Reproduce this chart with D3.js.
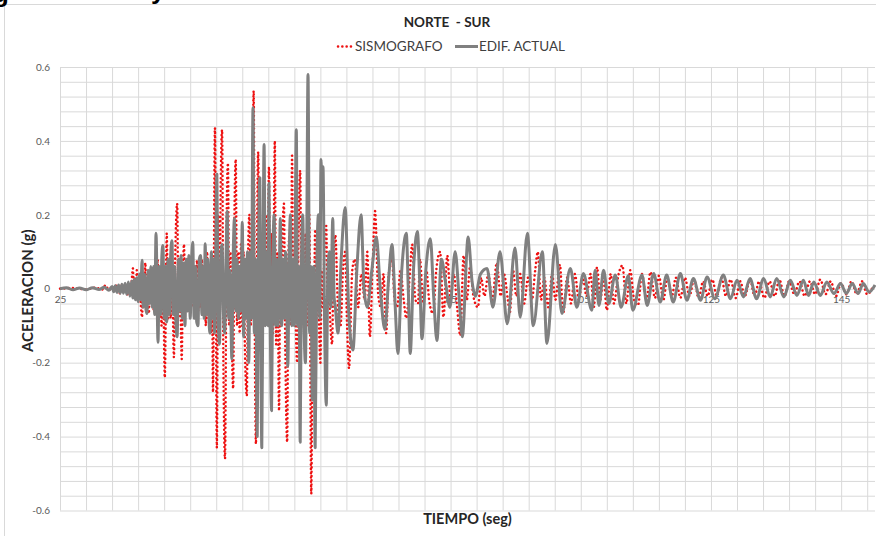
<!DOCTYPE html>
<html>
<head>
<meta charset="utf-8">
<script src="https://cdn.jsdelivr.net/npm/d3@7/dist/d3.min.js"></script>
<style>
  body { margin: 0; background: #fff; }
  svg { display: block; font-family: Lato, "Open Sans", sans-serif; }
</style>
</head>
<body>
<svg class="chart"></svg>
<script>
//======
// Data
//======

// [tiempo (seg), aceleracion (g)] - extremes
var sismografo = [
  [25, 0], [27, 0.002], [29, -0.002], [30.5, 0.003], [31.5, -0.002], [32, 0.01], [32.5, -0.004],
  [33.0, 0.005], [33.3, -0.005], [33.6, 0.008], [33.9, -0.008], [34.2, -0.012], [34.5, 0.01],
  [34.8, 0.012], [35.1, -0.01], [35.4, -0.015], [35.7, 0.012], [35.9, -0.01], [36.05, 0.03],
  [36.2, 0.055], [36.35, -0.02], [36.5, 0.03], [36.65, -0.02], [36.8, 0.05], [37.0, -0.03],
  [37.2, 0.02], [37.4, -0.04], [37.6, -0.077], [37.8, 0.04], [37.95, -0.03], [38.1, 0.07],
  [38.3, -0.03], [38.45, 0.03], [38.65, -0.067], [38.85, 0.05], [39.0, -0.04], [39.2, 0.05],
  [39.4, -0.06], [39.6, 0.05], [39.8, -0.05], [40.0, 0.08], [40.2, -0.06], [40.4, 0.05],
  [40.6, -0.1], [40.8, 0.06], [41.1, -0.24], [41.4, 0.15], [41.6, -0.08], [41.8, 0.05],
  [42.0, -0.08], [42.2, 0.07], [42.5, -0.185], [42.7, 0.08], [43.0, 0.23], [43.2, -0.08],
  [43.4, 0.06], [43.7, -0.19], [43.9, 0.06], [44.05, 0.12], [44.25, -0.06], [44.45, 0.05],
  [44.65, -0.06], [44.85, 0.04], [45.0, -0.067], [45.2, 0.05], [45.4, -0.05], [45.6, 0.06],
  [45.8, -0.05], [46.05, 0.077], [46.25, -0.06], [46.45, 0.05], [46.6, -0.05], [46.8, 0.08],
  [47.0, -0.07], [47.2, 0.06], [47.4, -0.1], [47.6, 0.1], [47.8, -0.08], [48.0, 0.05],
  [48.2, -0.12], [48.35, 0.06], [48.5, -0.28], [48.8, 0.435], [49.1, -0.43], [49.3, 0.2],
  [49.5, -0.15], [49.7, 0.3], [49.9, 0.43], [50.1, -0.2], [50.35, -0.46], [50.6, 0.2],
  [50.8, 0.34], [51.0, -0.1], [51.2, 0.1], [51.4, -0.15], [51.6, -0.27], [51.8, 0.2],
  [52.0, 0.35], [52.2, -0.1], [52.4, 0.1], [52.6, -0.12], [52.8, 0.12], [53.0, -0.1],
  [53.2, 0.1], [53.4, -0.15], [53.7, -0.29], [53.9, 0.1], [54.1, 0.2], [54.3, -0.1],
  [54.5, 0.1], [54.75, 0.535], [54.95, -0.2], [55.1, -0.42], [55.3, 0.2], [55.45, 0.37],
  [55.65, -0.15], [55.85, 0.1], [56.05, -0.2], [56.25, 0.15], [56.45, -0.1], [56.65, 0.2],
  [56.85, -0.1], [57.1, 0.33], [57.3, -0.1], [57.5, 0.15], [57.7, -0.12], [58.0, 0.40],
  [58.2, -0.15], [58.4, 0.1], [58.65, -0.33], [58.85, 0.1], [59.0, -0.1], [59.2, 0.15],
  [59.4, 0.23], [59.6, -0.15], [59.9, -0.415], [60.1, 0.1], [60.3, 0.15], [60.45, -0.1],
  [60.65, 0.36], [60.85, -0.1], [61.05, 0.1], [61.25, -0.12], [61.45, -0.2], [61.65, 0.15],
  [61.9, 0.32], [62.1, -0.1], [62.3, 0.1], [62.5, -0.12], [62.7, 0.15], [62.9, -0.1],
  [63.1, 0.1], [63.3, 0.2], [63.6, -0.555], [63.85, 0.05], [64.0, -0.05], [64.2, 0.16],
  [64.4, -0.08], [64.6, 0.08], [64.8, -0.1], [65.0, -0.2], [65.2, 0.05], [65.4, -0.05],
  [65.6, 0.1], [65.9, 0.17], [66.1, -0.05], [66.3, 0.03], [66.5, -0.08], [66.8, -0.15],
  [67.0, 0.05], [67.3, 0.145], [67.7, -0.05], [68.1, -0.1], [68.5, 0.06], [68.8, 0.1],
  [69.1, -0.1], [69.4, -0.215], [69.9, 0.05], [70.3, 0.08], [70.8, -0.05], [71.3, 0.04],
  [71.8, -0.03], [72.2, 0.10], [72.6, -0.13], [73.0, 0.05], [73.4, 0.21], [73.9, -0.02],
  [74.3, -0.05], [74.7, 0.04], [75.1, -0.12], [75.5, 0.04], [76.0, 0.08], [76.4, -0.03],
  [76.8, -0.05], [77.3, 0.05], [77.8, -0.03], [78.2, -0.08], [78.7, 0.03], [79.1, 0.12],
  [79.6, -0.03], [80.0, -0.04], [80.3, 0.08], [80.8, -0.04], [81.3, 0.05], [81.7, -0.03],
  [82.3, -0.067], [82.8, 0.05], [83.4, 0.10], [83.9, -0.077], [84.5, 0.09], [85.0, -0.03],
  [85.5, 0.04], [86.0, -0.05], [86.5, -0.127], [87.0, 0.09], [87.5, -0.03], [88.0, 0.06],
  [88.5, -0.02], [89.2, -0.05], [89.7, 0.03], [90.2, -0.02], [90.8, 0.04], [91.4, -0.03],
  [92.1, 0.07], [92.7, -0.02], [93.2, 0.04], [93.8, -0.03], [94.1, -0.064], [94.6, 0.05],
  [95.1, -0.02], [95.7, 0.04], [96.3, -0.04], [96.9, 0.03], [97.5, -0.03], [98.0, 0.05],
  [98.4, 0.10], [98.9, -0.03], [99.4, 0.03], [100.0, -0.05], [100.6, 0.04], [101.1, -0.03],
  [101.8, 0.065], [102.3, -0.067], [102.9, 0.03], [103.5, -0.04], [104.1, 0.04], [104.7, -0.03],
  [105.3, 0.03], [105.9, -0.02], [106.5, 0.04], [107.0, -0.05], [107.5, 0.058], [108.0, -0.03],
  [108.5, 0.03], [109.0, -0.058], [109.6, 0.04], [110.1, -0.04], [110.7, 0.03], [111.4, 0.063],
  [112.0, -0.04], [112.6, 0.05], [113.2, -0.03], [113.8, -0.045], [114.4, 0.04], [115.1, -0.03],
  [115.7, 0.045], [116.4, -0.025], [117.0, 0.035], [117.7, -0.03], [118.3, 0.03], [119.0, -0.02],
  [119.6, 0.03], [120.3, -0.025], [121.0, 0.03], [121.7, -0.02], [122.4, 0.025], [123.1, -0.025],
  [123.8, 0.02], [124.5, -0.02], [125.2, 0.025], [125.9, -0.02], [126.6, 0.03], [127.3, -0.02],
  [128.0, 0.025], [128.8, -0.025], [129.5, 0.02], [130.2, -0.02], [131.0, 0.025], [131.7, -0.02],
  [132.4, 0.02], [133.2, -0.025], [134.0, 0.02], [134.8, -0.02], [135.5, 0.025], [136.3, -0.02],
  [137.0, 0.02], [137.8, -0.015], [138.6, 0.02], [139.4, -0.02], [140.2, 0.02], [141.0, -0.015],
  [141.8, 0.025], [142.6, -0.015], [143.4, 0.02], [144.2, -0.02], [145.0, 0.015], [145.8, -0.015],
  [146.6, 0.02], [147.4, -0.015], [148.2, 0.02], [149.0, -0.015], [150.0, 0.01]
];

var edifActual = [
  [25, 0], [26, 0.003], [27, -0.003], [28, 0.002], [29, -0.003], [30, 0.003], [31, -0.002],
  [31.8, 0.004], [32.5, -0.004], [33.0, 0.006], [33.25, -0.008], [33.5, 0.008], [33.75, -0.01],
  [34.0, 0.01], [34.25, -0.012], [34.5, 0.012], [34.75, -0.012], [35.0, 0.015], [35.25, -0.015],
  [35.5, 0.018], [35.75, -0.02], [36.0, 0.02], [36.2, -0.025], [36.4, 0.025], [36.6, -0.03],
  [36.8, 0.03], [37.0, -0.035], [37.2, 0.04], [37.4, -0.03], [37.6, 0.077], [37.8, -0.05],
  [38.0, 0.04], [38.2, -0.055], [38.35, -0.067], [38.55, 0.05], [38.75, -0.04], [38.95, 0.06],
  [39.15, -0.05], [39.35, 0.06], [39.55, -0.07], [39.75, 0.15], [40.06, -0.145], [40.25, 0.06],
  [40.45, -0.07], [40.65, 0.09], [40.8, 0.117], [41.0, -0.08], [41.2, 0.06], [41.4, -0.09],
  [41.6, 0.08], [41.8, -0.07], [42.0, 0.09], [42.2, 0.13], [42.4, -0.07], [42.6, 0.06],
  [42.8, -0.09], [43.0, -0.13], [43.2, 0.08], [43.4, -0.06], [43.6, 0.09], [43.8, -0.08],
  [44.0, 0.07], [44.2, -0.1], [44.4, 0.08], [44.6, -0.06], [44.8, 0.09], [45.0, -0.08],
  [45.2, 0.07], [45.4, 0.126], [45.6, -0.08], [45.8, 0.06], [46.0, -0.09], [46.2, -0.10],
  [46.4, 0.08], [46.6, 0.09], [46.8, -0.07], [47.0, 0.06], [47.15, -0.08], [47.3, 0.122],
  [47.5, -0.07], [47.7, 0.08], [47.9, -0.09], [48.05, -0.12], [48.25, 0.1], [48.45, -0.08],
  [48.6, 0.08], [48.75, -0.12], [48.95, 0.12], [49.1, 0.31], [49.3, -0.08], [49.5, -0.15],
  [49.7, 0.08], [49.9, 0.12], [50.1, -0.06], [50.3, -0.12], [50.5, 0.08], [50.7, 0.21],
  [50.9, -0.08], [51.05, 0.05], [51.25, -0.08], [51.4, -0.19], [51.6, 0.08], [51.8, 0.19],
  [52.0, -0.06], [52.2, 0.08], [52.4, -0.08], [52.6, 0.06], [52.8, -0.06], [53.0, 0.18],
  [53.2, -0.13], [53.4, 0.08], [53.6, -0.08], [53.8, 0.1], [54.0, -0.2], [54.2, 0.1],
  [54.4, -0.08], [54.65, 0.49], [54.85, -0.12], [55.05, 0.08], [55.3, -0.40], [55.5, 0.1],
  [55.7, 0.3], [55.85, -0.12], [56.0, -0.43], [56.2, 0.1], [56.35, 0.39], [56.55, -0.1],
  [56.75, 0.1], [56.95, -0.1], [57.1, 0.285], [57.3, -0.1], [57.5, -0.33], [57.7, 0.08],
  [57.9, 0.2], [58.1, -0.1], [58.3, 0.08], [58.5, -0.1], [58.7, 0.06], [58.85, 0.19],
  [59.05, -0.1], [59.25, 0.08], [59.45, -0.08], [59.65, 0.1], [59.85, -0.06], [60.0, -0.21],
  [60.2, 0.08], [60.4, 0.2], [60.6, -0.1], [60.8, 0.08], [61.0, -0.1], [61.3, 0.43],
  [61.5, -0.1], [61.7, 0.06], [61.9, -0.415], [62.1, 0.08], [62.3, 0.2], [62.5, -0.1],
  [62.7, -0.2], [62.9, 0.12], [63.1, 0.58], [63.35, -0.12], [63.55, 0.06], [63.75, -0.3],
  [63.95, 0.06], [64.2, -0.43], [64.45, 0.06], [64.7, 0.2], [64.9, -0.08], [65.1, 0.35],
  [65.25, 0.25], [65.4, 0.33], [65.65, -0.1], [65.9, -0.315], [66.15, 0.05], [66.4, 0.1],
  [66.6, -0.05], [66.9, 0.19], [67.1, -0.02], [67.3, -0.05], [67.7, -0.12], [68.2, 0.08],
  [68.8, 0.22], [69.4, -0.08], [70.0, -0.166], [70.6, 0.05], [71.25, 0.20], [71.7, 0.0],
  [72.2, -0.05], [72.9, 0.05], [73.6, 0.14], [74.2, 0.0], [74.9, -0.11], [75.5, 0.03],
  [76.0, 0.12], [76.5, -0.05], [76.9, -0.175], [77.5, 0.05], [78.2, 0.15], [78.5, 0.0],
  [78.8, -0.175], [79.3, 0.05], [79.9, 0.155], [80.3, 0.0], [80.6, -0.135], [81.2, 0.05],
  [81.9, 0.135], [82.4, -0.02], [82.9, -0.14], [83.6, 0.08], [84.2, 0.02], [84.9, -0.05],
  [85.7, 0.10], [86.3, -0.02], [86.8, -0.13], [87.7, 0.14], [88.3, 0.02], [88.8, -0.02],
  [89.6, 0.04], [90.6, 0.055], [91.5, -0.05], [92.6, 0.10], [93.7, -0.095], [94.9, 0.11],
  [95.7, -0.077], [96.8, 0.15], [97.7, -0.10], [99.1, 0.10], [99.8, -0.148], [101.1, 0.12],
  [102.1, -0.067], [103.4, 0.055], [104.4, -0.05], [105.4, 0.041], [106.7, -0.058], [107.2, 0.05],
  [107.8, -0.045], [108.5, 0.05], [109.3, -0.04], [110.3, 0.037], [111.2, -0.05], [112.3, 0.035],
  [113.0, -0.058], [114.4, 0.037], [115.2, -0.045], [116.2, 0.041], [117.2, -0.036], [118.2, 0.037],
  [119.2, -0.036], [120.3, 0.041], [121.3, -0.031], [122.3, 0.028], [123.4, -0.031], [124.4, 0.032],
  [125.6, -0.027], [126.9, 0.037], [128.0, -0.027], [129.0, 0.023], [130.0, -0.022], [131.0, 0.028],
  [132.0, -0.027], [133.1, 0.028], [134.1, -0.022], [135.1, 0.028], [136.2, -0.022], [137.2, 0.023],
  [138.2, -0.018], [139.2, 0.023], [140.0, -0.018], [140.8, 0.018], [141.8, -0.018], [142.8, 0.018],
  [143.9, -0.013], [144.9, 0.014], [145.8, -0.013], [146.7, 0.014], [147.6, -0.013], [148.4, 0.014],
  [149.3, -0.009], [150.2, 0.01]
];

var seriesNames = ["SISMOGRAFO", "EDIF. ACTUAL"];
var xTicks = [25, 45, 65, 85, 105, 125, 145];
var yTicks = [0.6, 0.4, 0.2, 0, -0.2, -0.4, -0.6];
var yTickLabels = ["0.6", "0.4", "0.2", "0", "-0.2", "-0.4", "-0.6"];

//=======
// Chart
//=======

function buildChart() {
  var width = 876,
    height = 536,
    left = 60,
    right = 875,
    top = 67,
    bottom = 510.5;

  var svg = d3.select(".chart")
    .attr("width", width)
    .attr("height", height);

  // chart area border (runs off the picture on right / bottom)
  svg.append("rect")
    .attr("x", 4.5).attr("y", 4.5)
    .attr("width", 900).attr("height", 600)
    .attr("fill", "#fff")
    .attr("stroke", "#d9d9d9");

  // bits of the document heading above the chart
  svg.append("text").attr("x", -7).attr("y", 2)
    .attr("font-family", "Liberation Sans, Arial").attr("font-weight", "bold")
    .attr("font-size", 26).attr("fill", "#000").text("g");
  svg.append("text").attr("x", 151).attr("y", -1)
    .attr("font-family", "Liberation Sans, Arial").attr("font-weight", "bold")
    .attr("font-size", 26).attr("fill", "#000").text("y");

  var x = d3.scaleLinear().domain([25, 150.2]).range([left, right]);
  var y = d3.scaleLinear().domain([-0.6, 0.6]).range([bottom, top]);

  // grid: minor units 4 s and 0.04 g
  var xGrid = d3.range(0, 32).map(function(i) { return 25 + i * 4; });
  var yGrid = d3.range(0, 31).map(function(i) { return -0.6 + i * 0.04; });

  svg.append("g")
    .attr("transform", "translate(0," + bottom + ")")
    .call(d3.axisBottom(x).tickValues(xGrid).tickSize(-(bottom - top)).tickFormat(""))
    .call(function(g) { g.select(".domain").remove(); })
    .selectAll("line").attr("stroke", "#d9d9d9");

  svg.append("g")
    .attr("transform", "translate(" + left + ",0)")
    .call(d3.axisLeft(y).tickValues(yGrid).tickSize(-(right - left)).tickFormat(""))
    .call(function(g) { g.select(".domain").remove(); })
    .selectAll("line").attr("stroke", "#d9d9d9");

  // Y-Axis labels
  var yAxis = svg.append("g")
    .attr("transform", "translate(" + left + ",0)")
    .call(d3.axisLeft(y).tickValues(yTicks).tickSize(0).tickPadding(10)
      .tickFormat(function(d, i) { return yTickLabels[i]; }));
  yAxis.select(".domain").remove();
  yAxis.selectAll("text")
    .attr("font-family", "Lato, sans-serif")
    .attr("font-size", 10)
    .attr("fill", "#595959");

  // X-Axis labels sit on the zero line
  var xAxis = svg.append("g")
    .attr("transform", "translate(0," + y(0) + ")")
    .call(d3.axisBottom(x).tickValues(xTicks).tickSize(0).tickPadding(7));
  xAxis.select(".domain").remove();
  xAxis.selectAll("text")
    .attr("font-family", "Lato, sans-serif")
    .attr("font-size", 10)
    .attr("fill", "#595959");

  var line = d3.line()
    .curve(d3.curveMonotoneX)
    .x(function(d) { return x(d[0]); })
    .y(function(d) { return y(d[1]); });

  // series order as in Excel: SISMOGRAFO first, EDIF. ACTUAL painted over it
  svg.append("path")
    .datum(sismografo)
    .attr("d", line)
    .attr("fill", "none")
    .attr("stroke", "#ee1111")
    .attr("stroke-width", 2.5)
    .attr("stroke-linecap", "round")
    .attr("stroke-dasharray", "0.1 4.2");

  svg.append("path")
    .datum(edifActual)
    .attr("d", line)
    .attr("fill", "none")
    .attr("stroke", "#808080")
    .attr("stroke-width", 3)
    .attr("stroke-linejoin", "round");

  // Titles
  svg.append("text")
    .attr("x", 447).attr("y", 26.5)
    .attr("text-anchor", "middle")
    .attr("font-weight", "bold").attr("font-size", 13.5)
    .attr("fill", "#262626")
    .attr("xml:space", "preserve")
    .text("NORTE  - SUR");

  svg.append("text")
    .attr("transform", "translate(33," + ((top + bottom) / 2 + 2) + ") rotate(-90)")
    .attr("text-anchor", "middle")
    .attr("font-weight", "bold").attr("font-size", 15)
    .attr("fill", "#262626")
    .text("ACELERACION (g)");

  svg.append("text")
    .attr("x", (left + right) / 2).attr("y", 524)
    .attr("text-anchor", "middle")
    .attr("font-weight", "bold").attr("font-size", 14.5)
    .attr("fill", "#262626")
    .text("TIEMPO (seg)");

  // Legend
  var legend = svg.append("g").attr("class", "legend");
  legend.append("line")
    .attr("x1", 338).attr("x2", 353).attr("y1", 46.5).attr("y2", 46.5)
    .attr("stroke", "#ee1111").attr("stroke-width", 2.5)
    .attr("stroke-linecap", "round").attr("stroke-dasharray", "0.1 4.2");
  legend.append("text")
    .attr("x", 355).attr("y", 51)
    .attr("font-size", 13.5).attr("fill", "#404040")
    .text(seriesNames[0]);
  legend.append("line")
    .attr("x1", 455).attr("x2", 478).attr("y1", 46.5).attr("y2", 46.5)
    .attr("stroke", "#808080").attr("stroke-width", 3);
  legend.append("text")
    .attr("x", 479).attr("y", 51)
    .attr("font-size", 13.5).attr("fill", "#404040")
    .text(seriesNames[1]);
}

buildChart();
</script>
</body>
</html>
